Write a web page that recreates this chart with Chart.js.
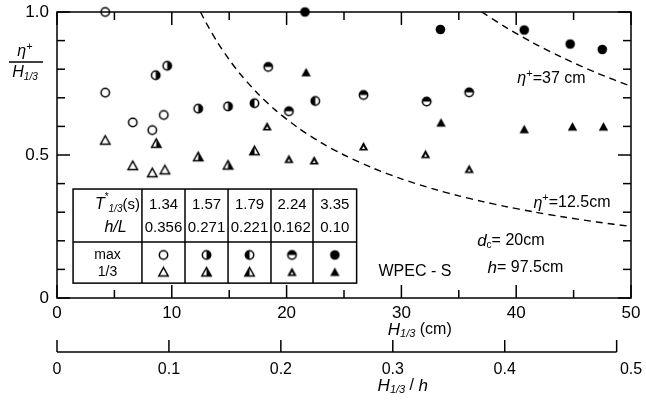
<!DOCTYPE html>
<html>
<head>
<meta charset="utf-8">
<script src="https://cdn.jsdelivr.net/npm/chart.js@4.4.0/dist/chart.umd.min.js"></script>
<style>
  body { margin: 0; background: #fff; }
  #wrap { width: 646px; height: 400px; }
</style>
</head>
<body>
<div id="wrap"><canvas id="chart" width="646" height="400"></canvas></div>
<script>
// test series: significant period and relative depth
const periods = ['1.34', '1.57', '1.79', '2.24', '3.35'];
const depthRatios = ['0.356', '0.271', '0.221', '0.162', '0.10'];
const fills = ['open', 'right', 'left', 'top', 'full'];

// eta+/H1/3 against H1/3 (cm); circles = max, triangles = 1/3
const maxH = [
    [4.2, 4.2, 6.6, 8.3, 9.3],
    [8.6, 9.6, 12.3, 14.9],
    [17.2, 22.5],
    [18.4, 20.2, 26.7, 32.2, 35.9],
    [21.6, 33.4, 40.7, 44.7, 47.5]
];
const maxRatio = [
    [1.0, 0.718, 0.614, 0.587, 0.640],
    [0.779, 0.812, 0.662, 0.670],
    [0.681, 0.689],
    [0.808, 0.653, 0.710, 0.687, 0.719],
    [1.0, 0.939, 0.937, 0.888, 0.869]
];
const thirdH = [
    [4.2, 6.6, 8.3, 9.4],
    [8.65, 12.3, 14.9],
    [17.2],
    [18.3, 20.2, 22.4, 26.7, 32.1, 35.9],
    [21.7, 33.45, 40.7, 44.9, 47.6]
];
const thirdRatio = [
    [0.552, 0.463, 0.438, 0.448],
    [0.541, 0.494, 0.465],
    [0.515],
    [0.600, 0.486, 0.481, 0.530, 0.503, 0.451],
    [0.789, 0.613, 0.590, 0.599, 0.599]
];

// dashed lines of constant eta+ (cm)
const etaLevels = [12.5, 37];
const curveH = [12.5, 13, 14, 15, 16, 17.5, 19, 21, 23, 25, 27.5, 30, 33, 35, 37, 39, 41.5, 44, 47, 50];

const depth = 97.5; // h (cm)
const xTicks = [0, 5, 10, 15, 20, 25, 30, 35, 40, 45, 50];
const yTicks = [0, 0.1, 0.2, 0.3, 0.4, 0.5, 0.6, 0.7, 0.8, 0.9, 1.0];
const ratioTicks = [0, 0.1, 0.2, 0.3, 0.4, 0.5];

const FONT = "'Liberation Sans', Arial, sans-serif";

function makeMarker(shape, fill) {
    const c = document.createElement('canvas');
    c.width = 13; c.height = 13;
    const g = c.getContext('2d');
    g.lineWidth = 1.5;
    g.strokeStyle = '#000';
    g.fillStyle = '#000';
    if (shape === 'circle') {
        const r = 4.2;
        if (fill === 'full') {
            g.beginPath(); g.arc(6.5, 6.5, r + 0.6, 0, Math.PI * 2); g.fill();
            return c;
        }
        let a0 = null, a1 = null;
        if (fill === 'right') { a0 = -Math.PI / 2; a1 = Math.PI / 2; }
        if (fill === 'left') { a0 = Math.PI / 2; a1 = Math.PI * 1.5; }
        if (fill === 'top') { a0 = Math.PI; a1 = Math.PI * 2; }
        if (a0 !== null) {
            g.beginPath(); g.arc(6.5, 6.5, r, a0, a1); g.closePath(); g.fill();
        }
        g.beginPath(); g.arc(6.5, 6.5, r, 0, Math.PI * 2); g.stroke();
    } else {
        const p = [[6.5, 2], [11.2, 10.5], [1.8, 10.5]];
        const tri = () => { g.beginPath(); g.moveTo(p[0][0], p[0][1]); g.lineTo(p[1][0], p[1][1]); g.lineTo(p[2][0], p[2][1]); g.closePath(); };
        if (fill === 'full') { tri(); g.fill(); return c; }
        if (fill === 'right') {
            g.beginPath(); g.moveTo(6.5, 2); g.lineTo(11.2, 10.5); g.lineTo(6.5, 10.5); g.closePath(); g.fill();
        }
        if (fill === 'left') {
            g.beginPath(); g.moveTo(6.5, 2); g.lineTo(6.5, 10.5); g.lineTo(1.8, 10.5); g.closePath(); g.fill();
        }
        if (fill === 'top') {
            tri(); g.fill();
            g.fillStyle = '#fff';
            g.beginPath(); g.moveTo(6.5, 6.3); g.lineTo(8, 9); g.lineTo(5, 9); g.closePath(); g.fill();
            return c;
        }
        tri(); g.stroke();
    }
    return c;
}

const datasets = [];
periods.forEach((t, i) => {
    datasets.push({
        label: 'max ' + t,
        data: maxH[i].map((h, k) => ({ x: h, y: maxRatio[i][k] })),
        pointStyle: makeMarker('circle', fills[i]),
        pointRadius: 5,
        clip: false
    });
    datasets.push({
        label: '1/3 ' + t,
        data: thirdH[i].map((h, k) => ({ x: h, y: thirdRatio[i][k] })),
        pointStyle: makeMarker('triangle', fills[i]),
        pointRadius: 5,
        clip: false
    });
});
etaLevels.forEach(eta => {
    datasets.push({
        label: 'eta ' + eta,
        data: curveH.filter(h => h >= eta).map(h => ({ x: h, y: eta / h })),
        showLine: true,
        borderColor: '#000',
        borderWidth: 1.4,
        borderDash: [7, 5],
        pointRadius: 0,
        tension: 0.3
    });
});

// draws a string made of pieces: [text, size, italic, dy]
function drawRich(ctx, parts, x, y, align) {
    const fontOf = p => (p[2] ? 'italic ' : '') + p[1] + 'px ' + FONT;
    let w = 0;
    parts.forEach(p => { ctx.font = fontOf(p); w += ctx.measureText(p[0]).width; });
    let cx = align === 'center' ? x - w / 2 : (align === 'right' ? x - w : x);
    ctx.textAlign = 'left';
    ctx.textBaseline = 'middle';
    parts.forEach(p => {
        ctx.font = fontOf(p);
        ctx.fillText(p[0], cx, y + (p[3] || 0));
        cx += ctx.measureText(p[0]).width;
    });
}

function seg(ctx, x1, y1, x2, y2) {
    ctx.beginPath();
    ctx.moveTo(x1, y1);
    ctx.lineTo(x2, y2);
    ctx.stroke();
}

const decor = {
    id: 'decor',
    afterDraw(chart) {
        const ctx = chart.ctx;
        const a = chart.chartArea;
        const xs = chart.scales.x, ys = chart.scales.y, x2 = chart.scales.x2;
        ctx.save();
        ctx.setLineDash([]);
        ctx.strokeStyle = '#000';
        ctx.fillStyle = '#000';
        ctx.lineWidth = 1.5;
        ctx.strokeRect(a.left, a.top, a.right - a.left, a.bottom - a.top);

        // inward ticks on all four sides
        for (const v of yTicks) {
            const py = ys.getPixelForValue(v);
            const len = Math.abs(v * 2 - Math.round(v * 2)) < 1e-6 ? 13 : 8;
            seg(ctx, a.left, py, a.left + len, py);
            seg(ctx, a.right, py, a.right - len, py);
        }
        for (const v of xTicks) {
            const px = xs.getPixelForValue(v);
            const len = v % 10 === 0 ? 13 : 8;
            seg(ctx, px, a.bottom, px, a.bottom - len);
            seg(ctx, px, a.top, px, a.top + len);
        }

        // second axis H1/3 / h
        const ly = x2.top + 12;
        seg(ctx, x2.getPixelForValue(0), ly, x2.getPixelForValue(0.5), ly);
        for (const v of ratioTicks) {
            const px = x2.getPixelForValue(v);
            seg(ctx, px, ly, px, ly - 12);
        }

        // axis titles
        drawRich(ctx, [['H', 17, true], ['1/3', 11, true, 4], [' (cm)', 16, false]], xs.getPixelForValue(31.6), 330, 'center');
        drawRich(ctx, [['H', 17, true], ['1/3', 11, true, 4], [' / ', 16, false], ['h', 17, true]], x2.getPixelForValue(0.3) + 10, 386, 'center');
        drawRich(ctx, [['\u03b7', 16, true], ['+', 11, false, -5]], 25, 52, 'center');
        seg(ctx, 9, 62, 43, 62);
        drawRich(ctx, [['H', 16, true], ['1/3', 10, true, 4]], 25, 73, 'center');

        // curve labels and test conditions
        drawRich(ctx, [['\u03b7', 16, true], ['+', 11, false, -5], ['=37 cm', 16, false]], xs.getPixelForValue(40.1), ys.getPixelForValue(0.766), 'left');
        drawRich(ctx, [['\u03b7', 16, true], ['+', 11, false, -5], ['=12.5cm', 16, false]], xs.getPixelForValue(41.5), ys.getPixelForValue(0.332), 'left');
        drawRich(ctx, [['d', 17, true], ['c', 10, false, 4], ['= 20cm', 16, false]], xs.getPixelForValue(36.6), ys.getPixelForValue(0.199), 'left');
        drawRich(ctx, [['h', 17, true], ['= 97.5cm', 16, false]], xs.getPixelForValue(37.5), ys.getPixelForValue(0.105), 'left');
        drawRich(ctx, [['WPEC - S', 16, false]], xs.getPixelForValue(28.0), ys.getPixelForValue(0.094), 'left');

        // legend table
        const cols = [1.4, 7.4, 11.15, 14.9, 18.64, 22.3, 26.1].map(v => xs.getPixelForValue(v));
        const top = ys.getPixelForValue(0.381), mid = ys.getPixelForValue(0.196), bot = ys.getPixelForValue(0.052);
        ctx.fillStyle = '#fff';
        ctx.fillRect(cols[0], top, cols[6] - cols[0], bot - top);
        ctx.fillStyle = '#000';
        ctx.strokeRect(cols[0], top, cols[6] - cols[0], bot - top);
        seg(ctx, cols[0], mid, cols[6], mid);
        for (let i = 1; i < 6; i++) seg(ctx, cols[i], top, cols[i], bot);
        const r1 = top + 16, r2 = top + 39, r3 = mid + 13, r4 = mid + 30;
        drawRich(ctx, [['T', 16, true], ['*', 10, false, -8], ['1/3', 10, true, 4], ['(s)', 15, false]], cols[1] - 2, r1, 'right');
        drawRich(ctx, [['h/L', 16, true]], (cols[0] + cols[1]) / 2 + 8, r2, 'center');
        drawRich(ctx, [['max', 14, false]], (cols[0] + cols[1]) / 2, r3, 'center');
        drawRich(ctx, [['1/3', 14, false]], (cols[0] + cols[1]) / 2, r4, 'center');
        periods.forEach((t, i) => {
            const cx = (cols[i + 1] + cols[i + 2]) / 2;
            drawRich(ctx, [[t, 15, false]], cx, r1, 'center');
            drawRich(ctx, [[depthRatios[i], 15, false]], cx, r2, 'center');
            const m1 = chart.data.datasets[i * 2].pointStyle;
            const m2 = chart.data.datasets[i * 2 + 1].pointStyle;
            ctx.drawImage(m1, cx - m1.width / 2, r3 - m1.height / 2);
            ctx.drawImage(m2, cx - m2.width / 2, r4 - m2.height / 2);
        });
        ctx.restore();
    }
};

new Chart(document.getElementById('chart').getContext('2d'), {
    type: 'scatter',
    data: { datasets: datasets },
    options: {
        responsive: false,
        animation: false,
        layout: { padding: { left: 0, top: 12, right: 15, bottom: 0 } },
        plugins: { legend: { display: false }, tooltip: { enabled: false } },
        scales: {
            x: {
                type: 'linear', position: 'bottom', min: 0, max: 50, weight: 0,
                grid: { display: false, drawTicks: false },
                border: { display: false },
                ticks: {
                    stepSize: 10, padding: 5, color: '#000',
                    font: { family: FONT, size: 17 }
                },
                afterFit(scale) { scale.height = 42; scale.paddingLeft = 0; scale.paddingRight = 0; }
            },
            x2: {
                type: 'linear', position: 'bottom', min: 0, max: 50 / depth, weight: 1,
                grid: { display: false, drawTicks: false },
                border: { display: false },
                ticks: {
                    stepSize: 0.1, padding: 20, color: '#000',
                    font: { family: FONT, size: 16 },
                    callback: v => (Math.round(v * 10) / 10).toString()
                },
                afterFit(scale) { scale.height = 60; scale.paddingLeft = 0; scale.paddingRight = 0; }
            },
            y: {
                min: 0, max: 1,
                grid: { display: false, drawTicks: false },
                border: { display: false },
                ticks: {
                    stepSize: 0.1, autoSkip: false, padding: 8, color: '#000',
                    font: { family: FONT, size: 17 },
                    callback: v => {
                        if (Math.abs(v) < 1e-6) return '0';
                        if (Math.abs(v - 0.5) < 1e-6) return '0.5';
                        if (Math.abs(v - 1) < 1e-6) return '1.0';
                        return '';
                    }
                },
                afterFit(scale) { scale.width = 57; scale.paddingTop = 0; scale.paddingBottom = 0; }
            }
        }
    },
    plugins: [decor]
});
</script>
</body>
</html>
